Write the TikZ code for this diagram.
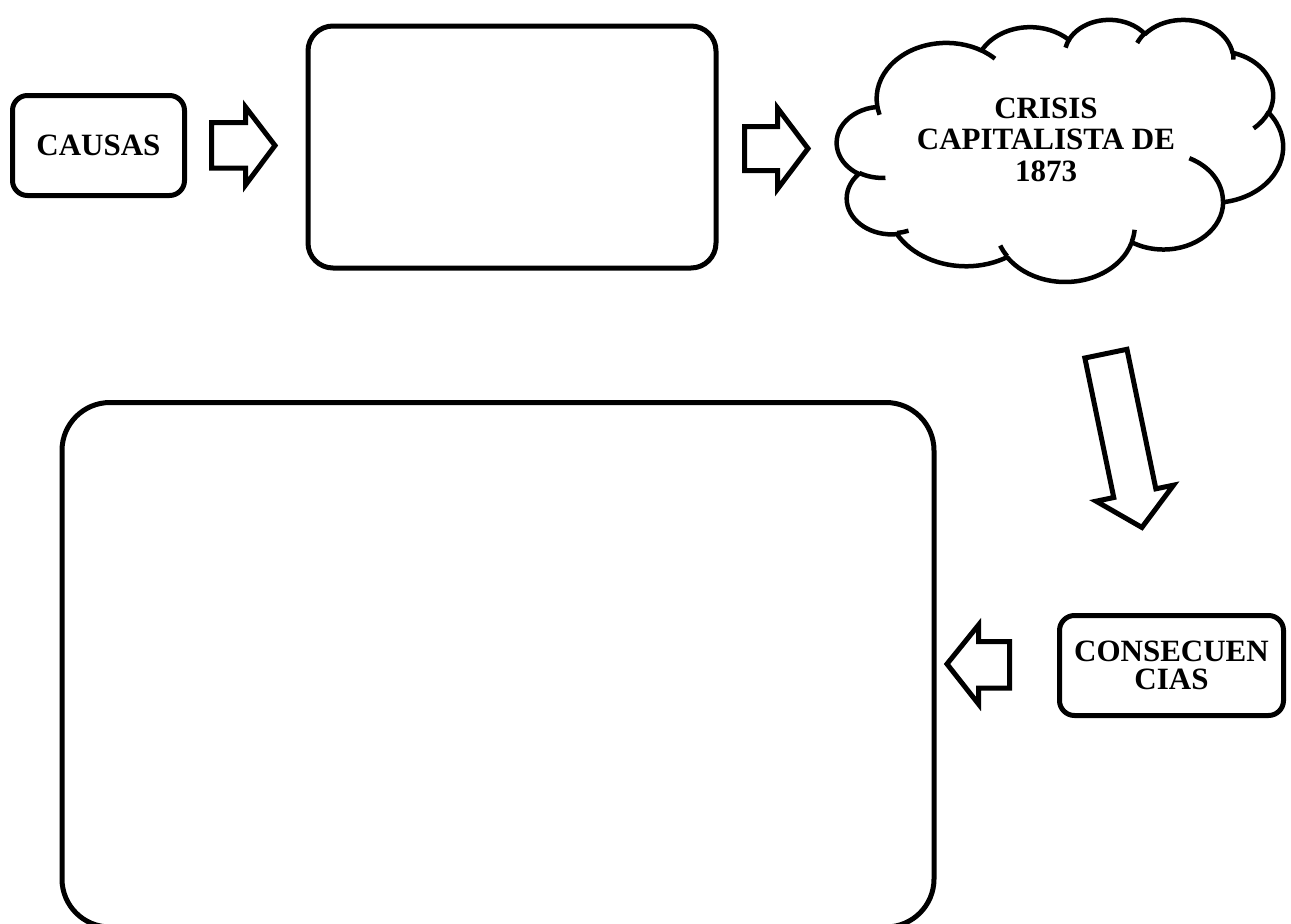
\documentclass[tikz,border=0pt]{standalone}
\usepackage{fontspec}
\setmainfont{Liberation Serif}
\newcommand\mkarc[6]{%
  \pgfmathsetmacro#1{atan2((#3)*sin(#5),(#4)*cos(#5))}%
  \pgfmathsetmacro\mkarcend{atan2((#3)*sin((#5)+(#6)),(#4)*cos((#5)+(#6)))}%
  \pgfmathsetmacro#2{(#6)>0 ? mod(\mkarcend-#1+720,360) : -mod(#1-\mkarcend+720,360)}%
}
\tikzset{
  boxshape/.style={draw, line width=5pt, rounded corners=#1, inner sep=0pt,
    font=\bfseries\fontsize{31}{28.5}\selectfont, align=center},
  blockarrow/.style={draw, line width=5pt, line join=miter, fill=white},
  cloudline/.style={line width=4.5pt, line cap=butt, line join=round},
  cloudtext/.style={font=\bfseries\fontsize{31}{31.5}\selectfont, align=center, inner sep=0pt}
}
\begin{document}
\begin{tikzpicture}[x=1pt,y=-1pt]
\useasboundingbox (0,0) rectangle (1291,924);
\clip (0,0) rectangle (1291,924);
\fill[white] (0,0) rectangle (1291,924);

% boxes
\node[boxshape=15pt, minimum width=172pt, minimum height=100pt] (causas) at (98.5,145.5) {CAUSAS};
\node[boxshape=25pt, minimum width=408pt, minimum height=242pt] (mid) at (512,147) {};
\node[boxshape=48pt, minimum width=872pt, minimum height=524.5pt] (big) at (498,664.75) {};
\node[boxshape=15pt, minimum width=224pt, minimum height=100pt] (cons) at (1171.5,665.5) {CONSECUEN\\CIAS};

% block arrows
\draw[blockarrow] (211.5,122.5) -- (245.5,122.5) -- (245.5,107) -- (275,145.5) -- (245.5,185) -- (245.5,168) -- (211.5,168) -- cycle;
\draw[blockarrow] (744.5,126.5) -- (777.5,126.5) -- (777.5,108) -- (808,148.5) -- (777.5,189) -- (777.5,170.5) -- (744.5,170.5) -- cycle;
\draw[blockarrow] (1009.5,641.5) -- (978.5,641.5) -- (978.5,625) -- (947,664) -- (978.5,704) -- (978.5,688) -- (1009.5,688) -- cycle;
\begin{scope}[shift={(1105.4,351.2)}, rotate=-78.3]
\draw[blockarrow] (2.5,-21.5) -- (145,-21.5) -- (145,-39.5) -- (180,0) -- (145,39.5) -- (145,21.5) -- (2.5,21.5) -- cycle;
\end{scope}

% cloud
\mkarc\cldas\cldad{675.3}{919.0}{-190.48748}{123.78053}
\mkarc\cldbs\cldbd{533.3}{726.7}{-144.10238}{89.94523}
\mkarc\cldcs\cldcd{436.5}{594.5}{-145.80792}{99.72302}
\mkarc\cldds\clddd{485.7}{659.5}{-130.98607}{117.24173}
\mkarc\cldes\clded{533.3}{727.3}{-78.70888}{109.02692}
\mkarc\cldfs\cldfd{677.5}{922.0}{-46.26725}{130.269}
\mkarc\cldgs\cldgd{578.5}{786.7}{0.62502}{114.03333}
\mkarc\cldhs\cldhd{675.2}{921.5}{22.4516}{115.17255}
\mkarc\cldis\cldid{772.0}{1054.3}{66.24263}{75.71102}
\mkarc\cldjs\cldjd{436.0}{591.8}{-274.94208}{146.73557}
\mkarc\cldks\cldkd{434.5}{594.5}{-246.8285}{152.51885}
\mkarc\inas\inad{434.5}{594.5}{86.742}{26.4295}
\mkarc\inbs\inbd{436.0}{591.8}{73.61047}{11.44747}
\mkarc\incs\incd{675.2}{921.5}{137.62415}{14.0811}
\mkarc\inds\indd{675.2}{921.5}{6.45327}{15.99835}
\mkarc\ines\ined{578.5}{786.7}{-70.29235}{70.91737}
\mkarc\infs\infd{533.3}{727.3}{30.31803}{27.7515}
\mkarc\ings\ingd{485.7}{659.5}{-13.74433}{14.8589}
\mkarc\inhs\inhd{485.7}{659.5}{-149.18145}{18.19537}
\mkarc\inis\inid{436.5}{594.5}{-163.49427}{17.68635}
\mkarc\injs\injd{675.3}{919.0}{-66.70695}{12.31935}
\mkarc\inks\inkd{675.3}{919.0}{157.65435}{11.85817}
\begin{scope}[shift={(837,19)}, x=0.103241pt, y=-0.0606481pt]
\draw[cloudline] (390,1437)
  arc[start angle=\cldas, delta angle=\cldad, x radius=675.3, y radius=919.0]
  arc[start angle=\cldbs, delta angle=\cldbd, x radius=533.3, y radius=726.7]
  arc[start angle=\cldcs, delta angle=\cldcd, x radius=436.5, y radius=594.5]
  arc[start angle=\cldds, delta angle=\clddd, x radius=485.7, y radius=659.5]
  arc[start angle=\cldes, delta angle=\clded, x radius=533.3, y radius=727.3]
  arc[start angle=\cldfs, delta angle=\cldfd, x radius=677.5, y radius=922.0]
  arc[start angle=\cldgs, delta angle=\cldgd, x radius=578.5, y radius=786.7]
  arc[start angle=\cldhs, delta angle=\cldhd, x radius=675.2, y radius=921.5]
  arc[start angle=\cldis, delta angle=\cldid, x radius=772.0, y radius=1054.3]
  arc[start angle=\cldjs, delta angle=\cldjd, x radius=436.0, y radius=591.8]
  arc[start angle=\cldks, delta angle=\cldkd, x radius=434.5, y radius=594.5]
  -- cycle;
\draw[cloudline] (469.3,2617.7) arc[start angle=\inas, delta angle=\inad, x radius=434.5, y radius=594.5];
\draw[cloudline] (692.8,3489.9) arc[start angle=\inbs, delta angle=\inbd, x radius=436.0, y radius=591.8];
\draw[cloudline] (1647.8,3909.0) arc[start angle=\incs, delta angle=\incd, x radius=675.2, y radius=921.5];
\draw[cloudline] (2882.7,3475.1) arc[start angle=\inds, delta angle=\indd, x radius=675.2, y radius=921.5];
\draw[cloudline] (3412.9,2295.4) arc[start angle=\ines, delta angle=\ined, x radius=578.5, y radius=786.7];
\draw[cloudline] (4179.8,1535.4) arc[start angle=\infs, delta angle=\infd, x radius=533.3, y radius=727.3];
\draw[cloudline] (3832.4,542.6) arc[start angle=\ings, delta angle=\ingd, x radius=485.7, y radius=659.5];
\draw[cloudline] (2907.8,395.2) arc[start angle=\inhs, delta angle=\inhd, x radius=485.7, y radius=659.5];
\draw[cloudline] (2214.1,472.0) arc[start angle=\inis, delta angle=\inid, x radius=436.5, y radius=594.5];
\draw[cloudline] (1400.0,519.2) arc[start angle=\injs, delta angle=\injd, x radius=675.3, y radius=919.0];
\draw[cloudline] (412.7,1578.9) arc[start angle=\inks, delta angle=\inkd, x radius=675.3, y radius=919.0];
\end{scope}
\node[cloudtext] (crisis) at (1046,139.5) {CRISIS\\CAPITALISTA DE\\1873};
\end{tikzpicture}
\end{document}
